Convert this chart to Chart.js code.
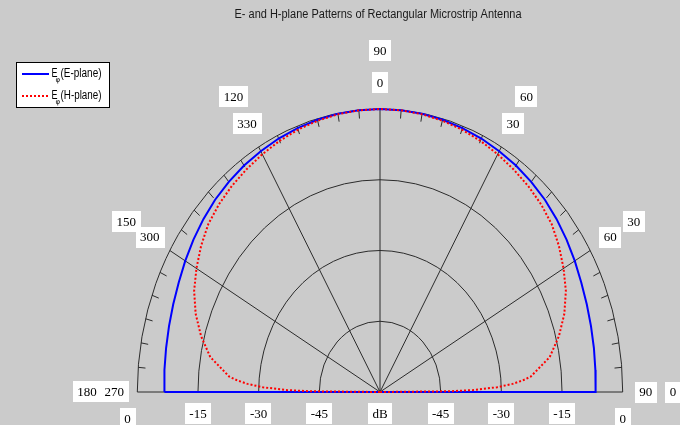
<!DOCTYPE html>
<html>
<head>
<meta charset="utf-8">
<script src="https://cdn.jsdelivr.net/npm/chart.js@4/dist/chart.umd.min.js"></script>
<style>
  html, body { margin: 0; padding: 0; background: #cbcbcb; }
  #wrap { width: 680px; height: 425px; }
  canvas { display: block; }
</style>
</head>
<body>
<div id="wrap"><canvas id="c" width="680" height="425"></canvas></div>
<script>
// Angle from broadside in degrees; ±180 is behind the ground plane (scale floor)
const thetaDeg = [-180, -90, -89.5, -89, -88, -87, -86, -85, -80, -75, -70, -65, -60, -55, -50, -45,
  -40, -35, -30, -25, -20, -15, -10, -5, 0, 5, 10, 15, 20, 25, 30, 35, 40, 45, 50, 55, 60, 65, 70,
  75, 80, 85, 86, 87, 88, 89, 89.5, 90, 180];

// Normalised pattern in dB
const ePlaneDb = [-60, -6.7, -6.7, -6.68, -6.65, -6.62, -6.6, -6.55, -6.3, -6.0, -5.6, -5.1, -4.4, -3.7, -3.0, -2.35,
  -1.85, -1.4, -1.05, -0.7, -0.45, -0.25, -0.1, -0.03, 0, -0.03, -0.1, -0.25, -0.45, -0.7, -1.05, -1.4, -1.85, -2.35, -3.0, -3.7, -4.4, -5.1, -5.6,
  -6.0, -6.3, -6.55, -6.6, -6.62, -6.65, -6.68, -6.7, -6.7, -60];

const hPlaneDb = [-60, -60, -43.0, -37.0, -31.0, -27.2, -24.6, -22.6, -17.4, -14.2, -11.5, -9.3, -7.6, -6.0, -4.6, -3.7,
  -3.0, -2.4, -1.8, -1.25, -0.8, -0.45, -0.2, -0.05, 0, -0.05, -0.2, -0.45, -0.8, -1.25, -1.8, -2.4, -3.0, -3.7, -4.6, -6.0, -7.6, -9.3, -11.5,
  -14.2, -17.4, -22.6, -24.6, -27.2, -31.0, -37.0, -43.0, -60, -60];

const seriesNames = ['(E-plane)', '(H-plane)'];
const fieldSymbol = 'E';
const fieldSub = 'φ';

const ringDb = [-45, -30, -15, 0];
const floorDb = -60;
const spokeDeg = [30, 60, 90, 120, 150];          // measured from the horizontal
const outerAngleLabels = ['0', '30', '60', '90', '120', '150', '180'];
const innerAngleLabels = ['90', '60', '30', '0', '330', '300', '270'];
const dbLabelsLeft = ['0', '-15', '-30', '-45'];
const dbLabelsRight = ['-45', '-30', '-15', '0'];
const dbUnit = 'dB';
const titleText = 'E- and H-plane Patterns of Rectangular Microstrip Antenna';

const toRadius = db => (Math.max(db, floorDb) - floorDb) / -floorDb;
const toPoints = vals => thetaDeg.map((t, i) => {
  const r = toRadius(vals[i]);
  const a = t * Math.PI / 180;
  return { x: r * Math.sin(a), y: r * Math.cos(a) };
});

// draws text squeezed horizontally to a given width
function squeezedText(ctx, txt, px, py, width) {
  const w = ctx.measureText(txt).width;
  ctx.save();
  ctx.translate(px, py);
  ctx.scale(Math.min(1, width / w), 1);
  ctx.fillText(txt, 0, 0);
  ctx.restore();
}

const polarGrid = {
  id: 'polarGrid',
  beforeDatasetsDraw(chart) {
    const { ctx, scales: { x, y } } = chart;
    const cx = x.getPixelForValue(0), cy = y.getPixelForValue(0);
    const P = (deg, r) => {
      const a = deg * Math.PI / 180;
      return [x.getPixelForValue(r * Math.cos(a)), y.getPixelForValue(r * Math.sin(a))];
    };
    ctx.save();
    ctx.strokeStyle = '#2b2b2b';
    ctx.lineWidth = 1;
    // rings
    ringDb.forEach(db => {
      const r = toRadius(db);
      const rx = x.getPixelForValue(r) - cx;
      const ry = cy - y.getPixelForValue(r);
      ctx.beginPath();
      ctx.ellipse(cx, cy, rx, ry, 0, Math.PI, 2 * Math.PI);
      ctx.stroke();
    });
    // base line
    ctx.beginPath();
    ctx.moveTo(x.getPixelForValue(-1), cy);
    ctx.lineTo(x.getPixelForValue(1), cy);
    ctx.stroke();
    // spokes
    spokeDeg.forEach(d => {
      const [px, py] = P(d, 1);
      ctx.beginPath();
      ctx.moveTo(cx, cy);
      ctx.lineTo(px, py);
      ctx.stroke();
    });
    // minor ticks every 5 degrees
    const inner = toRadius(-1.8);
    for (let d = 5; d < 180; d += 5) {
      if (d % 30 === 0) continue;
      const [x1, y1] = P(d, 1), [x2, y2] = P(d, inner);
      ctx.beginPath();
      ctx.moveTo(x1, y1);
      ctx.lineTo(x2, y2);
      ctx.stroke();
    }
    ctx.restore();
  },
  afterDraw(chart) {
    const { ctx, scales: { x, y } } = chart;
    const P = (deg, r) => {
      const a = deg * Math.PI / 180;
      return [x.getPixelForValue(r * Math.cos(a)), y.getPixelForValue(r * Math.sin(a))];
    };
    ctx.save();
    ctx.font = '13px "Liberation Serif", "Times New Roman", serif';
    ctx.textAlign = 'center';
    ctx.textBaseline = 'middle';
    const boxLabel = (txt, px, py) => {
      const w = ctx.measureText(txt).width + 9;
      const h = 21;
      ctx.fillStyle = '#ffffff';
      ctx.fillRect(Math.round(px - w / 2), Math.round(py - h / 2), Math.round(w), h);
      ctx.fillStyle = '#000000';
      ctx.fillText(txt, px, py + 1);
    };
    outerAngleLabels.forEach((t, i) => { const [px, py] = P(i * 30, 1.207); boxLabel(t, px, py); });
    innerAngleLabels.forEach((t, i) => { const [px, py] = P(i * 30, 1.095); boxLabel(t, px, py); });
    const by = y.getPixelForValue(-0.075);
    dbLabelsLeft.forEach((t, i) => {
      const xv = -toRadius(ringDb[3 - i]) - (i === 0 ? 0.04 : 0);
      boxLabel(t, x.getPixelForValue(xv), by + (i === 0 ? 5 : 0));
    });
    dbLabelsRight.forEach((t, i) => boxLabel(t, x.getPixelForValue(toRadius(ringDb[i])), by + (i === 3 ? 5 : 0)));
    boxLabel(dbUnit, x.getPixelForValue(0), by);

    // title, set in a condensed face
    ctx.font = '12px "Liberation Sans", Arial, sans-serif';
    ctx.fillStyle = '#1a1a1a';
    squeezedText(ctx, titleText, 378, 15, 287);

    // legend
    const lx = 16.5, ly = 62.5, lw = 93, lh = 45;
    ctx.fillStyle = '#ffffff';
    ctx.fillRect(lx, ly, lw, lh);
    ctx.strokeStyle = '#000000';
    ctx.lineWidth = 1;
    ctx.strokeRect(lx, ly, lw, lh);
    chart.data.datasets.slice().sort((a, b) => a.legendRow - b.legendRow).forEach((ds, i) => {
      const ry = 74 + i * 22;
      ctx.save();
      ctx.strokeStyle = ds.borderColor;
      ctx.lineWidth = ds.borderWidth;
      ctx.setLineDash(ds.borderDash || []);
      ctx.beginPath();
      ctx.moveTo(22, ry);
      ctx.lineTo(49, ry);
      ctx.stroke();
      ctx.restore();
      ctx.fillStyle = '#000000';
      ctx.textAlign = 'left';
      ctx.font = '12px "Liberation Sans", Arial, sans-serif';
      squeezedText(ctx, fieldSymbol, 51.5, ry, 6);
      ctx.font = '7px "DejaVu Sans", sans-serif';
      ctx.fillText(fieldSub, 55.5, ry + 6);
      ctx.font = '12px "Liberation Sans", Arial, sans-serif';
      squeezedText(ctx, seriesNames[ds.legendRow], 60.5, ry, 41);
    });
    ctx.restore();
  }
};

new Chart(document.getElementById('c'), {
  type: 'scatter',
  data: {
    datasets: [
      {
        label: fieldSymbol + fieldSub + ' ' + seriesNames[1],
        legendRow: 1,
        data: toPoints(hPlaneDb),
        showLine: true,
        borderColor: '#ff0000',
        borderWidth: 2,
        borderDash: [2, 2],
        pointRadius: 0,
        tension: 0,
        order: 0
      },
      {
        label: fieldSymbol + fieldSub + ' ' + seriesNames[0],
        legendRow: 0,
        data: toPoints(ePlaneDb),
        showLine: true,
        borderColor: '#0000ff',
        borderWidth: 2,
        pointRadius: 0,
        tension: 0,
        order: 1
      }
    ]
  },
  options: {
    responsive: false,
    animation: false,
    layout: { padding: 0 },
    plugins: { legend: { display: false }, tooltip: { enabled: false }, title: { display: false } },
    scales: {
      x: { type: 'linear', display: false, min: -380 / 242.7, max: 300 / 242.7 },
      y: { type: 'linear', display: false, min: -33 / 283, max: 392 / 283 }
    }
  },
  plugins: [polarGrid]
});
</script>
</body>
</html>
